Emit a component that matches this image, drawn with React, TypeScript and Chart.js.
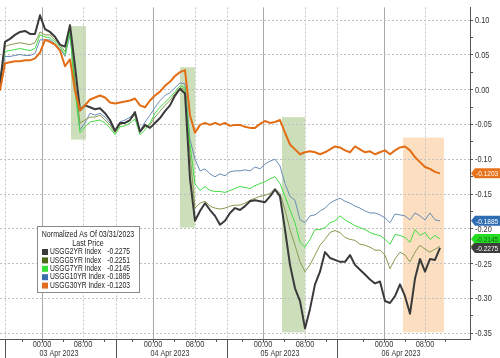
import React, { useEffect, useRef } from "react";
import { Chart, registerables } from "chart.js";

Chart.register(...registerables);

// ---- data (sample index along the gapped intraday time axis) ----
const SERIES_NAMES = ["USGG2YR Index", "USGG5YR Index", "USGG7YR Index", "USGG10YR Index", "USGG30YR Index"];
const LAST_PRICES = [-0.2275, -0.2251, -0.2145, -0.1885, -0.1203];

const usgg2yr = [0.0084, 0.0689, 0.0731, 0.0788, 0.083, 0.0844, 0.0802, 0.0802, 0.1069, 0.0872,
  0.083, 0.076, 0.0647, 0.0619, 0.0928, 0.0338, -0.0295, -0.0225, -0.0253, -0.0281,
  -0.0267, -0.0338, -0.0436, -0.0591, -0.0478, -0.0478, -0.0436, -0.0323, -0.0605, -0.0506,
  -0.0549, -0.0478, -0.0408, -0.0309, -0.0225, -0.0084, 0.0014, -0.0056, -0.128, -0.1885,
  -0.1744, -0.1632, -0.173, -0.1814, -0.1941, -0.1885, -0.1772, -0.1702, -0.173, -0.1674,
  -0.1603, -0.1589, -0.1603, -0.1617, -0.1533, -0.1435, -0.1533, -0.2011, -0.2518, -0.2855,
  -0.3038, -0.3432, -0.3151, -0.2799, -0.2616, -0.2335, -0.2419, -0.2447, -0.2475, -0.2475,
  -0.2377, -0.2518, -0.2588, -0.2658, -0.2729, -0.2785, -0.2757, -0.3038, -0.3066, -0.2968,
  -0.2799, -0.2968, -0.3221, -0.2715, -0.2433, -0.2616, -0.2433, -0.2447, -0.2275];

const usgg5yr = [0.0113, 0.0619, 0.0647, 0.0661, 0.0675, 0.0661, 0.0647, 0.0675, 0.083, 0.0788,
  0.0788, 0.0717, 0.0647, 0.0549, 0.0872, 0.0127, -0.0478, -0.0436, -0.0394, -0.0394,
  -0.0366, -0.0436, -0.0506, -0.0619, -0.0506, -0.0478, -0.0436, -0.0366, -0.0605, -0.0534,
  -0.0506, -0.0394, -0.0309, -0.0225, -0.0155, -0.0056, 0.0028, 0.0, -0.0928, -0.1702,
  -0.1632, -0.1603, -0.1674, -0.1702, -0.1716, -0.1702, -0.1674, -0.166, -0.166, -0.1632,
  -0.1589, -0.1561, -0.1533, -0.1519, -0.1491, -0.1421, -0.1491, -0.173, -0.2011, -0.2236,
  -0.2475, -0.2616, -0.2518, -0.2377, -0.2236, -0.2152, -0.2053, -0.2025, -0.2053, -0.2124,
  -0.2152, -0.2166, -0.2222, -0.2236, -0.2264, -0.2307, -0.2307, -0.2377, -0.2574, -0.2433,
  -0.2335, -0.2377, -0.2475, -0.2335, -0.2236, -0.2293, -0.2335, -0.2293, -0.2251];

const usgg7yr = [0.0169, 0.0549, 0.0563, 0.0577, 0.0591, 0.0577, 0.0563, 0.0591, 0.0788, 0.076,
  0.0745, 0.0689, 0.0619, 0.0506, 0.083, -0.0014, -0.0619, -0.0534, -0.0464, -0.045,
  -0.0436, -0.0478, -0.0549, -0.0647, -0.0534, -0.052, -0.0478, -0.0422, -0.0647, -0.0577,
  -0.0478, -0.0338, -0.0253, -0.0183, -0.0113, -0.0028, 0.0056, 0.0028, -0.0788, -0.135,
  -0.1449, -0.1392, -0.1449, -0.1463, -0.1463, -0.1477, -0.1449, -0.1421, -0.1392, -0.1406,
  -0.1421, -0.1378, -0.135, -0.1322, -0.128, -0.1252, -0.135, -0.1533, -0.173, -0.1913,
  -0.2194, -0.2264, -0.2152, -0.2011, -0.2011, -0.1983, -0.1913, -0.1885, -0.1814, -0.1871,
  -0.1913, -0.1955, -0.1983, -0.2011, -0.2053, -0.2082, -0.2096, -0.2152, -0.2222, -0.2082,
  -0.2096, -0.2124, -0.2194, -0.2011, -0.2096, -0.2053, -0.2152, -0.2096, -0.2145];

const usgg10yr = [0.0084, 0.0478, 0.0478, 0.0492, 0.0506, 0.0492, 0.0492, 0.052, 0.0717, 0.0717,
  0.0717, 0.0661, 0.0591, 0.0478, 0.0788, 0.0056, -0.0577, -0.0478, -0.0338, -0.0366,
  -0.0338, -0.0394, -0.0478, -0.0605, -0.0464, -0.0436, -0.0394, -0.0338, -0.0591, -0.0464,
  -0.0366, -0.0253, -0.0155, -0.0084, -0.0042, 0.0028, 0.0098, 0.0084, -0.0717, -0.0999,
  -0.1167, -0.1139, -0.121, -0.1252, -0.121, -0.1238, -0.1181, -0.1167, -0.1167, -0.1153,
  -0.1167, -0.1111, -0.1139, -0.1069, -0.1027, -0.0999, -0.1097, -0.135, -0.1533, -0.1589,
  -0.1871, -0.1913, -0.1814, -0.18, -0.1744, -0.1702, -0.1632, -0.1589, -0.1561, -0.1603,
  -0.1632, -0.1674, -0.1702, -0.1744, -0.1772, -0.1772, -0.18, -0.1842, -0.1913, -0.1786,
  -0.18, -0.1814, -0.1871, -0.1772, -0.1814, -0.1871, -0.1772, -0.1871, -0.1885];

const usgg30yr = [-0.0014, 0.038, 0.0394, 0.0408, 0.0408, 0.0422, 0.0422, 0.045, 0.0534, 0.0717,
  0.0689, 0.0647, 0.0563, 0.0338, 0.0436, -0.0014, -0.0295, -0.0225, -0.0141, -0.0113,
  -0.0084, -0.0113, -0.0183, -0.0197, -0.0183, -0.0169, -0.0155, -0.0127, -0.0225, -0.0253,
  -0.0155, -0.0084, -0.0028, 0.0056, 0.0113, 0.0197, 0.0253, 0.0281, -0.0366, -0.0619,
  -0.0506, -0.0478, -0.0506, -0.0478, -0.0506, -0.0478, -0.052, -0.0506, -0.0506, -0.0534,
  -0.0549, -0.0549, -0.0492, -0.045, -0.0478, -0.0464, -0.0436, -0.0619, -0.0788, -0.0858,
  -0.0928, -0.09, -0.0886, -0.09, -0.0928, -0.09, -0.0858, -0.0816, -0.083, -0.0872,
  -0.09, -0.0816, -0.0858, -0.09, -0.0886, -0.0928, -0.09, -0.0872, -0.0928, -0.0872,
  -0.083, -0.0816, -0.0872, -0.097, -0.1041, -0.1111, -0.1139, -0.1181, -0.1203];

const SERIES = [usgg2yr, usgg5yr, usgg7yr, usgg10yr, usgg30yr];

// axis ticks (positions on the sample-index axis)
const TIME_TICKS = [8.4, 16.6, 30.6, 39, 52.6, 61, 76.8, 85];
const TIME_LABELS = ["00:00", "08:00", "00:00", "08:00", "00:00", "08:00", "00:00", "08:00"];
const DAY_LABELS = ["03 Apr 2023", "04 Apr 2023", "05 Apr 2023", "06 Apr 2023"];
const SESSION_BREAKS = [1, 23.2, 45.4, 67.4];
const Y_MAJOR = [0.1, 0.05, 0.0, -0.05, -0.1, -0.15, -0.2, -0.25, -0.3, -0.35];
const Y_MIN = -0.3584;
const Y_MAX = 0.1183;
const X_MAX = 94;

// highlighted windows: [xStart, xEnd, yTop, yBottom]
const GREEN_WINDOWS = [
  [14.2, 17.2, 0.0914, -0.0717],
  [36, 39, 0.0323, -0.1983],
  [56.4, 61, -0.0394, -0.3488],
];
const ORANGE_WINDOWS = [[80.6, 88.8, -0.0689, -0.3488]];

// styles
const LINE_COLORS = ["#3a3a3a", "#8a9a50", "#45dc45", "#6a8db5", "#e36d14"];
const LINE_WIDTHS = [2, 1, 1, 1, 2];
const LEGEND_COLORS = ["#3a3a3a", "#4f6b1a", "#35e035", "#3b6fb0", "#e07020"];
const TAG_COLORS = ["#3d3d3d", "#5c7a1f", "#22dd22", "#2f6db3", "#e8721c"];
const FONT = "'Liberation Sans', Arial, sans-serif";
const SQUEEZE = 0.82;

const fmt = (v: number) => (Math.abs(v) < 1e-9 ? "0.00" : v.toFixed(2));
const isMajor = (v: number) => Math.abs(v * 20 - Math.round(v * 20)) < 1e-6;

function ctext(ctx: any, s: string, x: number, y: number, align: string, size: number, color: string) {
  ctx.save();
  ctx.font = `${size}px ${FONT}`;
  ctx.fillStyle = color;
  ctx.textAlign = align;
  ctx.textBaseline = "middle";
  ctx.translate(x, y);
  ctx.scale(SQUEEZE, 1);
  ctx.fillText(s, 0, 0);
  ctx.restore();
}

const decorPlugin = {
  id: "decor",
  beforeDraw(chart: any) {
    const { ctx, chartArea, scales } = chart;
    const x = scales.x;
    const y = scales.y;
    ctx.save();
    const box = (w: number[], color: string) => {
      const x0 = x.getPixelForValue(w[0]);
      const x1 = x.getPixelForValue(w[1]);
      const y0 = y.getPixelForValue(w[2]);
      const y1 = y.getPixelForValue(w[3]);
      ctx.fillStyle = color;
      ctx.fillRect(x0, y0, x1 - x0, y1 - y0);
    };
    GREEN_WINDOWS.forEach((w) => box(w, "rgba(170,200,140,0.6)"));
    ORANGE_WINDOWS.forEach((w) => box(w, "rgba(250,210,165,0.7)"));

    ctx.lineWidth = 1;
    TIME_TICKS.forEach((t, i) => {
      const px = Math.round(x.getPixelForValue(t)) + 0.5;
      ctx.beginPath();
      if (TIME_LABELS[i] === "00:00") {
        ctx.setLineDash([]);
        ctx.strokeStyle = "#a8a8a8";
      } else {
        ctx.setLineDash([2, 2]);
        ctx.strokeStyle = "#c4c4c4";
      }
      ctx.moveTo(px, chartArea.top);
      ctx.lineTo(px, chartArea.bottom);
      ctx.stroke();
    });
    SESSION_BREAKS.forEach((t) => {
      const px = Math.round(x.getPixelForValue(t)) + 0.5;
      ctx.setLineDash([2, 2]);
      ctx.strokeStyle = "#c4c4c4";
      ctx.beginPath();
      ctx.moveTo(px, chartArea.top);
      ctx.lineTo(px, chartArea.bottom);
      ctx.stroke();
    });
    ctx.restore();
  },
  afterDraw(chart: any) {
    const { ctx, chartArea, scales } = chart;
    const x = scales.x;
    const y = scales.y;
    const bottom = chartArea.bottom;
    ctx.save();
    ctx.setLineDash([]);
    ctx.strokeStyle = "#555";
    ctx.lineWidth = 1;
    ctx.beginPath();
    ctx.moveTo(chartArea.left, bottom + 0.5);
    ctx.lineTo(chartArea.right, bottom + 0.5);
    ctx.stroke();
    SESSION_BREAKS.forEach((t) => {
      const px = Math.round(x.getPixelForValue(t)) + 0.5;
      ctx.beginPath();
      ctx.moveTo(px, bottom);
      ctx.lineTo(px, chart.height);
      ctx.stroke();
    });
    const tickAt = (t: number) => {
      const px = Math.round(x.getPixelForValue(t)) + 0.5;
      ctx.beginPath();
      ctx.moveTo(px, bottom);
      ctx.lineTo(px, bottom + 3);
      ctx.stroke();
    };
    for (let d = 0; d < TIME_TICKS.length; d += 2) {
      const a = TIME_TICKS[d];
      const b = TIME_TICKS[d + 1];
      const half = (b - a) / 2;
      [a - half, a, a + half, b, b + half].forEach(tickAt);
    }
    TIME_TICKS.forEach((t, i) => {
      ctext(ctx, TIME_LABELS[i], x.getPixelForValue(t), bottom + 6, "center", 9, "#333");
    });
    DAY_LABELS.forEach((lab, i) => {
      ctext(ctx, lab, x.getPixelForValue(TIME_TICKS[i * 2]) + 17, bottom + 15, "center", 8.7, "#333");
    });

    // y-axis labels
    Y_MAJOR.forEach((v) => {
      ctext(ctx, fmt(v), chartArea.right + 5, y.getPixelForValue(v) + 0.5, "left", 9, "#333");
    });

    // last-price tags
    const order = [4, 3, 1, 2, 0];
    order.forEach((si) => {
      const py = y.getPixelForValue(LAST_PRICES[si]);
      const x0 = chartArea.right + 1;
      const h = 5;
      ctx.fillStyle = TAG_COLORS[si];
      ctx.beginPath();
      ctx.moveTo(x0, py);
      ctx.lineTo(x0 + 4, py - h);
      ctx.lineTo(chart.width, py - h);
      ctx.lineTo(chart.width, py + h);
      ctx.lineTo(x0 + 4, py + h);
      ctx.closePath();
      ctx.fill();
      ctext(ctx, LAST_PRICES[si].toFixed(4), x0 + 5, py + 0.5, "left", 8, si === 2 ? "#1a5a1a" : "#fff");
    });

    // legend box
    const lx = 37, ly = 226, lw = 102, lh = 66;
    ctx.fillStyle = "#fff";
    ctx.fillRect(lx, ly, lw, lh);
    ctx.strokeStyle = "#8a8a8a";
    ctx.strokeRect(lx + 0.5, ly + 0.5, lw, lh);
    ctext(ctx, "Normalized As Of 03/31/2023", lx + lw / 2, ly + 9, "center", 8.6, "#222");
    ctext(ctx, "Last Price", lx + lw / 2, ly + 17.5, "center", 8.6, "#222");
    SERIES_NAMES.forEach((name, i) => {
      const ry = ly + 26 + i * 8.4;
      ctx.fillStyle = LEGEND_COLORS[i];
      ctx.fillRect(lx + 5, ry - 3, 6, 6);
      ctext(ctx, name, lx + 13, ry, "left", 8.2, "#222");
      ctext(ctx, LAST_PRICES[i].toFixed(4), lx + 93, ry, "right", 8.2, "#222");
    });
    ctx.restore();
  },
};

export default function App() {
  const ref = useRef<HTMLCanvasElement | null>(null);
  useEffect(() => {
    if (!ref.current) return;
    const datasets = SERIES.map((vals, si) => ({
      label: SERIES_NAMES[si],
      data: vals.map((v, i) => ({ x: i, y: v })),
      borderColor: LINE_COLORS[si],
      backgroundColor: LINE_COLORS[si],
      borderWidth: LINE_WIDTHS[si],
      pointRadius: 0,
      tension: 0,
      borderJoinStyle: "round" as const,
      order: [2, 4, 3, 5, 1][si],
    }));
    const chart = new Chart(ref.current, {
      type: "line",
      data: { datasets },
      options: {
        animation: false,
        responsive: false,
        devicePixelRatio: 1,
        layout: { padding: { left: 0, top: 0, bottom: 19, right: 0 } },
        plugins: { legend: { display: false }, tooltip: { enabled: false } },
        scales: {
          x: { type: "linear", min: 0, max: X_MAX, display: false },
          y: {
            position: "right",
            min: Y_MIN,
            max: Y_MAX,
            afterFit: (s: any) => {
              s.width = 30;
            },
            afterBuildTicks: (s: any) => {
              const ticks: any[] = [];
              for (let k = 0; k < Y_MAJOR.length; k++) {
                ticks.push({ value: Y_MAJOR[k] });
                if (k < Y_MAJOR.length - 1) ticks.push({ value: (Y_MAJOR[k] + Y_MAJOR[k + 1]) / 2 });
              }
              s.ticks = ticks;
            },
            ticks: {
              autoSkip: false,
              padding: 2,
              color: "rgba(0,0,0,0)",
              font: { family: FONT, size: 9 },
              callback: () => "",
            },
            grid: {
              color: (c: any) => (c.tick && isMajor(c.tick.value) ? "#c0c0c0" : "rgba(0,0,0,0)"),
              tickColor: "#555",
              tickLength: 3,
              tickBorderDash: [],
              drawTicks: true,
            },
            border: { display: true, color: "#555", width: 1, dash: [2, 2] },
          },
        },
      },
      plugins: [decorPlugin],
    });
    return () => chart.destroy();
  }, []);
  return (
    <div style={{ position: "fixed", left: 0, top: 0, width: 500, height: 358, background: "#fff" }}>
      <canvas ref={ref} width={500} height={358} style={{ width: 500, height: 358 }} />
    </div>
  );
}
